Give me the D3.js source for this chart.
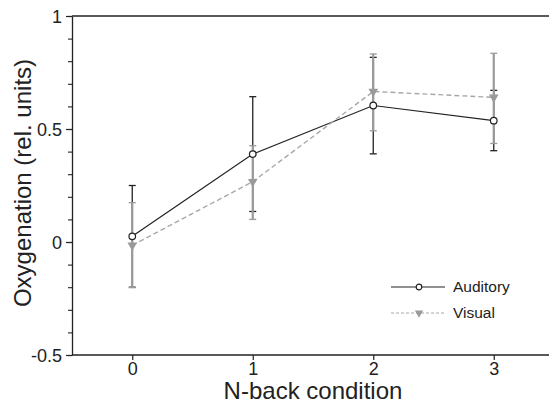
<!DOCTYPE html>
<html>
<head>
<meta charset="utf-8">
<script src="https://cdn.jsdelivr.net/npm/d3@7"></script>
<style>
  body { margin: 0; background: #fff; }
  svg { display: block; font-family: 'Liberation Sans', Arial, sans-serif; }
</style>
</head>
<body>
<div id="chart"></div>
<script>
const conditions = [0, 1, 2, 3];
const auditoryMean = [0.025, 0.389, 0.604, 0.537];
const auditoryLow = [-0.2, 0.135, 0.39, 0.404];
const auditoryHigh = [0.25, 0.643, 0.817, 0.671];
const visualMean = [-0.015, 0.267, 0.666, 0.64];
const visualLow = [-0.202, 0.1, 0.492, 0.436];
const visualHigh = [0.174, 0.426, 0.832, 0.835];
const yTicks = [-0.5, 0, 0.5, 1];

const width = 549;
const height = 403;
const margin = { top: 16, left: 72, bottom: 48 };

const svg = d3.select('#chart')
    .append('svg')
    .attr('width', width)
    .attr('height', height);

const xScale = d3.scaleLinear().domain([-0.5, 3.5]).range([margin.left, 554]);
const yScale = d3.scaleLinear().domain([-0.5, 1]).range([height - margin.bottom, margin.top]);

const ink = '#222';
const grey = '#9a9a9a';

// frame: left axis, top & bottom lines
const bottomY = yScale(-0.5);
svg.append('line')
    .attr('x1', margin.left).attr('x2', width)
    .attr('y1', margin.top).attr('y2', margin.top)
    .attr('stroke', ink).attr('stroke-width', 1.3);
svg.append('line')
    .attr('x1', margin.left).attr('x2', width)
    .attr('y1', bottomY).attr('y2', bottomY)
    .attr('stroke', ink).attr('stroke-width', 1.3);

// minor y ticks
const yMinor = svg.append('g')
    .attr('transform', `translate(${margin.left},0)`)
    .call(d3.axisLeft(yScale).ticks(15).tickSize(4).tickFormat(''));
yMinor.select('.domain').remove();
yMinor.selectAll('line').attr('stroke', ink).attr('stroke-width', 1.1);

const yAxis = svg.append('g')
    .attr('transform', `translate(${margin.left},0)`)
    .call(d3.axisLeft(yScale).tickValues(yTicks).tickSize(6).tickSizeOuter(0).tickPadding(4)
        .tickFormat((d) => String(d)));
yAxis.select('.domain').attr('stroke', ink).attr('stroke-width', 1.3);
yAxis.selectAll('line').attr('stroke', ink).attr('stroke-width', 1.2);
yAxis.selectAll('text').attr('font-size', 18).attr('fill', ink).attr('font-family', null)
    .attr('dy', '0.36em');

const xAxis = svg.append('g')
    .attr('transform', `translate(0,${bottomY})`)
    .call(d3.axisBottom(xScale).tickValues(conditions).tickSize(5).tickPadding(2)
        .tickFormat(d3.format('d')));
xAxis.select('.domain').remove();
xAxis.selectAll('line').attr('stroke', ink).attr('stroke-width', 1.2);
xAxis.selectAll('text').attr('font-size', 18).attr('fill', ink).attr('font-family', null);

// axis titles
svg.append('text')
    .attr('x', (xScale(-0.5) + xScale(3.5)) / 2)
    .attr('y', 399)
    .attr('text-anchor', 'middle')
    .attr('font-size', 24)
    .attr('fill', ink)
    .text('N-back condition');

svg.append('text')
    .attr('transform', `translate(31,183) rotate(-90)`)
    .attr('text-anchor', 'middle')
    .attr('font-size', 24)
    .attr('fill', ink)
    .text('Oxygenation (rel. units)');

// error bars
function errorBars(lo, hi, color, w) {
    const g = svg.append('g');
    conditions.forEach((c, i) => {
        const x = xScale(c);
        g.append('line')
            .attr('x1', x).attr('x2', x)
            .attr('y1', yScale(lo[i])).attr('y2', yScale(hi[i]))
            .attr('stroke', color).attr('stroke-width', w);
        [lo[i], hi[i]].forEach((v) => {
            g.append('line')
                .attr('x1', x - 3.5).attr('x2', x + 3.5)
                .attr('y1', yScale(v)).attr('y2', yScale(v))
                .attr('stroke', color).attr('stroke-width', 1.3);
        });
    });
}
errorBars(auditoryLow, auditoryHigh, ink, 1.3);
errorBars(visualLow, visualHigh, grey, 2.2);

const line = d3.line().x((d) => xScale(d[0])).y((d) => yScale(d[1]));

svg.append('path')
    .datum(conditions.map((c, i) => [c, auditoryMean[i]]))
    .attr('d', line)
    .attr('fill', 'none')
    .attr('stroke', ink)
    .attr('stroke-width', 1.2);

svg.append('path')
    .datum(conditions.map((c, i) => [c, visualMean[i]]))
    .attr('d', line)
    .attr('fill', 'none')
    .attr('stroke', '#a8a8a8')
    .attr('stroke-width', 1.4)
    .attr('stroke-dasharray', '5,3');

const tri = d3.symbol().type(d3.symbolTriangle).size(40);

svg.append('g').selectAll('path')
    .data(conditions)
    .join('path')
    .attr('d', tri)
    .attr('transform', (d, i) => `translate(${xScale(d)},${yScale(visualMean[i])}) rotate(180)`)
    .attr('fill', grey);

svg.append('g').selectAll('circle')
    .data(conditions)
    .join('circle')
    .attr('cx', (d) => xScale(d))
    .attr('cy', (d, i) => yScale(auditoryMean[i]))
    .attr('r', 3.3)
    .attr('fill', '#fff')
    .attr('stroke', ink)
    .attr('stroke-width', 1.2);

// legend
const legend = svg.append('g').attr('transform', 'translate(391,287)');
legend.append('line').attr('x1', 0).attr('x2', 54).attr('y1', 0).attr('y2', 0)
    .attr('stroke', ink).attr('stroke-width', 1.2);
legend.append('circle').attr('cx', 28).attr('cy', 0).attr('r', 2.8)
    .attr('fill', '#fff').attr('stroke', ink).attr('stroke-width', 1.2);
legend.append('text').attr('x', 62).attr('y', 0).attr('dy', '0.35em')
    .attr('font-size', 15.5).attr('fill', ink).text('Auditory');

legend.append('line').attr('x1', 0).attr('x2', 54).attr('y1', 26).attr('y2', 26)
    .attr('stroke', '#a8a8a8').attr('stroke-width', 1.2).attr('stroke-dasharray', '3,2');
legend.append('path').attr('d', d3.symbol().type(d3.symbolTriangle).size(30))
    .attr('transform', 'translate(28,26) rotate(180)')
    .attr('fill', grey);
legend.append('text').attr('x', 62).attr('y', 26).attr('dy', '0.35em')
    .attr('font-size', 15.5).attr('fill', ink).text('Visual');
</script>
</body>
</html>
